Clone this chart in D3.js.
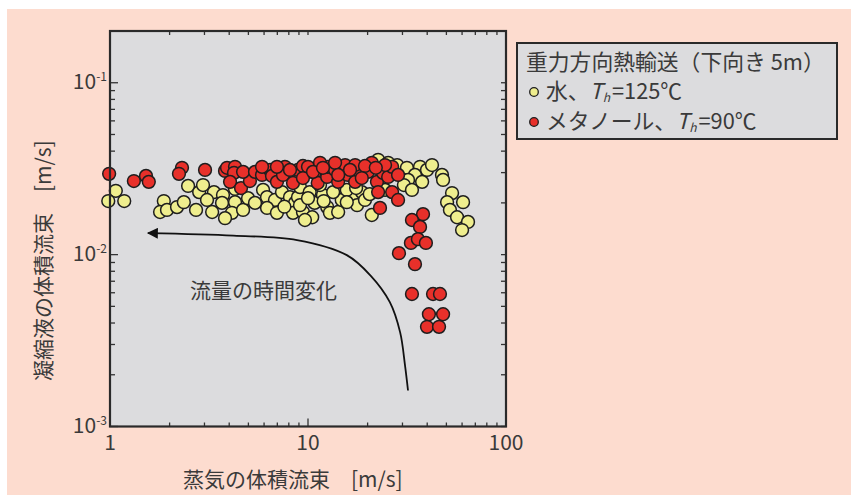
<!DOCTYPE html>
<html>
<head>
<meta charset="utf-8">
<script src="https://cdn.jsdelivr.net/npm/d3@7"></script>
<style>
  body { margin: 0; background: #fff; }
  svg { display: block; font-family: "Noto Sans CJK JP", "Noto Sans", sans-serif; }
</style>
</head>
<body>
<svg id="chart" width="858" height="495"></svg>
<script>
// 水、Th=125℃ : [蒸気の体積流束 m/s, 凝縮液の体積流束 m/s]
const waterPoints = [
  [1.07, 0.0235], [1.18, 0.0205], [0.98, 0.0205], [1.87, 0.0205], [1.79, 0.0177],
  [1.94, 0.0182], [2.18, 0.0189], [2.36, 0.0202], [2.48, 0.0251], [2.82, 0.0231],
  [2.72, 0.0182], [2.95, 0.0254], [3.35, 0.0231], [3.09, 0.0208], [3.72, 0.0222],
  [3.68, 0.0200], [4.28, 0.0202], [4.13, 0.0175], [3.28, 0.0177], [3.81, 0.0163],
  [4.70, 0.0182], [4.98, 0.0213], [5.93, 0.0238], [6.21, 0.0216], [6.81, 0.0208],
  [6.21, 0.0187], [6.97, 0.0175], [7.39, 0.0231], [8.11, 0.0216], [8.60, 0.0200],
  [8.40, 0.0175], [4.28, 0.0241], [8.90, 0.0216], [9.43, 0.0177], [10.5, 0.0165],
  [10.8, 0.0200], [11.9, 0.0222], [12.5, 0.0189], [12.9, 0.0175], [14.2, 0.0177],
  [14.8, 0.0208], [16.7, 0.0216], [17.7, 0.0194], [18.7, 0.0231], [19.4, 0.0208],
  [22.6, 0.0356], [25.4, 0.0342], [9.11, 0.0247], [10.2, 0.0231], [13.4, 0.0231],
  [15.7, 0.0238], [21.0, 0.0170], [28.2, 0.0332], [31.6, 0.0320], [36.8, 0.0324],
  [39.9, 0.0311], [34.7, 0.0291], [32.0, 0.0272], [30.5, 0.0254], [37.7, 0.0265],
  [33.5, 0.0238], [47.5, 0.0291], [48.1, 0.0272], [53.4, 0.0228], [50.4, 0.0202],
  [60.7, 0.0202], [52.1, 0.0182], [56.6, 0.0165], [64.3, 0.0155], [60.0, 0.0139],
  [9.65, 0.0159], [9.11, 0.0194], [10.0, 0.0213], [15.7, 0.0202], [24.5, 0.0238],
  [11.5, 0.0254], [17.5, 0.0244], [42.3, 0.0332], [5.4, 0.0200], [7.6, 0.0190],
  [12.0, 0.0205], [20.5, 0.0225], [26.0, 0.0300]
];

// メタノール、Th=90℃
const methanolPoints = [
  [0.99, 0.0295], [1.32, 0.0268], [1.52, 0.0287], [1.57, 0.0265], [2.31, 0.0320],
  [2.23, 0.0295], [3.02, 0.0311], [3.81, 0.0307], [3.90, 0.0320], [4.28, 0.0324],
  [4.23, 0.0299], [4.04, 0.0265], [4.59, 0.0244], [5.09, 0.0268], [4.70, 0.0303],
  [5.40, 0.0303], [5.86, 0.0291], [6.43, 0.0311], [6.58, 0.0287], [6.97, 0.0265],
  [7.65, 0.0324], [7.48, 0.0291], [8.40, 0.0261], [8.90, 0.0311], [9.43, 0.0328],
  [10.0, 0.0324], [9.43, 0.0279], [10.8, 0.0299], [11.2, 0.0261], [12.5, 0.0283],
  [12.6, 0.0324], [14.2, 0.0265], [13.7, 0.0311], [15.4, 0.0332], [15.9, 0.0291],
  [17.3, 0.0265], [18.3, 0.0303], [21.0, 0.0342], [20.1, 0.0303], [22.3, 0.0265],
  [22.6, 0.0231], [23.9, 0.0299], [25.4, 0.0283], [26.6, 0.0324], [23.1, 0.0187],
  [28.5, 0.0291], [26.6, 0.0231], [28.5, 0.0208], [38.1, 0.0172], [33.5, 0.0159],
  [36.8, 0.0145], [33.1, 0.0117], [35.9, 0.0123], [39.4, 0.0117], [28.8, 0.0102],
  [34.7, 0.0088], [33.5, 0.0059], [42.8, 0.0059], [46.4, 0.0059], [40.8, 0.0045],
  [48.1, 0.0045], [39.9, 0.0038], [45.9, 0.0038], [6.97, 0.0324], [5.86, 0.0324],
  [8.11, 0.0311], [11.5, 0.0342], [13.7, 0.0342], [17.3, 0.0332], [19.4, 0.0328],
  [16.3, 0.0311], [24.5, 0.0332], [22.0, 0.0320], [10.6, 0.0303], [14.2, 0.0291],
  [18.7, 0.0279], [11.9, 0.0320]
];

const xMajor = [1, 10, 100];
const xLabels = ['1', '10', '100'];
const yMajor = [0.001, 0.01, 0.1];
const yExponents = ['-3', '-2', '-1'];

// 流量の時間変化 arrow, in data units
const arrowPath = [
  [32.0, 0.00162], [30.9, 0.00227], [29.2, 0.00353], [25.9, 0.00529], [20.6, 0.0076],
  [15.7, 0.00993], [8.8, 0.01215], [4.2, 0.0129], [1.555, 0.01334]
];

const svg = d3.select('#chart');
const textColor = '#3a3a3a';
const plot = { left: 110, right: 506, top: 31, bottom: 426.5 };

const x = d3.scaleLog().domain([1, 100]).range([plot.left, plot.right]);
const y = d3.scaleLog().domain([0.001, 0.2]).range([plot.bottom, plot.top]);

svg.append('rect')
  .attr('x', 7).attr('y', 9)
  .attr('width', 844).attr('height', 486)
  .attr('fill', '#fddccf');

svg.append('rect')
  .attr('x', plot.left).attr('y', plot.top)
  .attr('width', plot.right - plot.left).attr('height', plot.bottom - plot.top)
  .attr('fill', '#dcdcde');

const xMinor = x.ticks().filter(v => !xMajor.includes(v));
const yMinor = y.ticks().filter(v => !yMajor.includes(v) && v <= 0.2);

const tickColor = '#333';
const axes = svg.append('g').attr('stroke', tickColor).attr('stroke-width', 1.3);

function addTicks(values, len, side) {
  values.forEach(v => {
    if (side === 'bottom' || side === 'top') {
      const px = x(v);
      const y0 = side === 'bottom' ? plot.bottom : plot.top;
      const dir = side === 'bottom' ? -1 : 1;
      axes.append('line').attr('x1', px).attr('x2', px).attr('y1', y0).attr('y2', y0 + dir * len);
    } else {
      const py = y(v);
      const x0 = side === 'left' ? plot.left : plot.right;
      const dir = side === 'left' ? 1 : -1;
      axes.append('line').attr('y1', py).attr('y2', py).attr('x1', x0).attr('x2', x0 + dir * len);
    }
  });
}

addTicks(xMajor, 8, 'bottom');
addTicks(xMinor, 4, 'bottom');
addTicks(xMinor.concat(xMajor), 4, 'top');
addTicks(yMajor, 8, 'left');
addTicks(yMinor, 5, 'left');
addTicks(yMinor.concat(yMajor), 5, 'right');

// markers
const dots = svg.append('g').attr('stroke', '#1e1e1e').attr('stroke-width', 1.5);

dots.selectAll('circle.water')
  .data(waterPoints)
  .enter()
  .append('circle')
  .attr('class', 'water')
  .attr('cx', d => x(d[0]))
  .attr('cy', d => y(d[1]))
  .attr('r', 6.4)
  .attr('fill', '#efee8e');

dots.selectAll('circle.methanol')
  .data(methanolPoints)
  .enter()
  .append('circle')
  .attr('class', 'methanol')
  .attr('cx', d => x(d[0]))
  .attr('cy', d => y(d[1]))
  .attr('r', 6.4)
  .attr('fill', '#e8302a');

// frame
svg.append('rect')
  .attr('x', plot.left).attr('y', plot.top)
  .attr('width', plot.right - plot.left).attr('height', plot.bottom - plot.top)
  .attr('fill', 'none')
  .attr('stroke', '#2a2a2a')
  .attr('stroke-width', 2.2);

// tick labels
svg.append('g')
  .selectAll('text')
  .data(xMajor)
  .enter()
  .append('text')
  .attr('x', d => x(d))
  .attr('y', 450)
  .attr('text-anchor', 'middle')
  .attr('font-size', 21)
  .attr('fill', textColor)
  .text((d, i) => xLabels[i]);

const yLab = svg.append('g')
  .selectAll('text')
  .data(yMajor)
  .enter()
  .append('text')
  .attr('x', 107)
  .attr('y', d => y(d) + 6)
  .attr('text-anchor', 'end')
  .attr('font-size', 21)
  .attr('fill', textColor);
yLab.append('tspan').text('10');
yLab.append('tspan')
  .attr('font-size', 12)
  .attr('dy', -8)
  .text((d, i) => yExponents[i]);

// axis titles
svg.append('text')
  .attr('x', 183)
  .attr('y', 487)
  .attr('font-size', 21)
  .attr('fill', textColor)
  .text('蒸気の体積流束　[m/s]');

svg.append('text')
  .attr('transform', 'translate(51,381) rotate(-90)')
  .attr('font-size', 21)
  .attr('fill', textColor)
  .text('凝縮液の体積流束　[m/s]');

// arrow annotation
svg.append('defs').append('marker')
  .attr('id', 'head')
  .attr('viewBox', '0 0 10 10')
  .attr('refX', 9).attr('refY', 5)
  .attr('markerWidth', 16).attr('markerHeight', 11)
  .attr('markerUnits', 'userSpaceOnUse')
  .attr('orient', 'auto')
  .append('path')
  .attr('d', 'M0,0 L10,5 L0,10 Z')
  .attr('fill', '#111');

svg.append('path')
  .datum(arrowPath)
  .attr('d', d3.line().x(d => x(d[0])).y(d => y(d[1])).curve(d3.curveCatmullRom))
  .attr('fill', 'none')
  .attr('stroke', '#111')
  .attr('stroke-width', 1.8)
  .attr('marker-end', 'url(#head)');

svg.append('text')
  .attr('x', 190)
  .attr('y', 298)
  .attr('font-size', 21)
  .attr('fill', textColor)
  .text('流量の時間変化');

// legend
const legend = svg.append('g');
legend.append('rect')
  .attr('x', 517).attr('y', 43)
  .attr('width', 320).attr('height', 96)
  .attr('fill', '#dcdcde')
  .attr('stroke', '#2a2a2a')
  .attr('stroke-width', 2);

legend.append('text')
  .attr('x', 526).attr('y', 70)
  .attr('font-size', 21.8)
  .attr('fill', textColor)
  .text('重力方向熱輸送（下向き 5m）');

const legendItems = [
  { color: '#efee8e', name: '水、', temp: '=125℃', y: 99 },
  { color: '#e8302a', name: 'メタノール、', temp: '=90℃', y: 129 }
];

legendItems.forEach(item => {
  legend.append('circle')
    .attr('cx', 534).attr('cy', item.y - 7)
    .attr('r', 4.3)
    .attr('fill', item.color)
    .attr('stroke', '#1e1e1e')
    .attr('stroke-width', 1.3);
  const t = legend.append('text')
    .attr('x', 546).attr('y', item.y)
    .attr('font-size', 21.8)
    .attr('fill', textColor);
  t.append('tspan').text(item.name);
  t.append('tspan').attr('font-style', 'italic').text('T');
  t.append('tspan').attr('font-style', 'italic').attr('font-size', 12).attr('dy', 2.5).text('h');
  t.append('tspan').attr('dy', -2.5).attr('dx', 2).text(item.temp);
});
</script>
</body>
</html>
